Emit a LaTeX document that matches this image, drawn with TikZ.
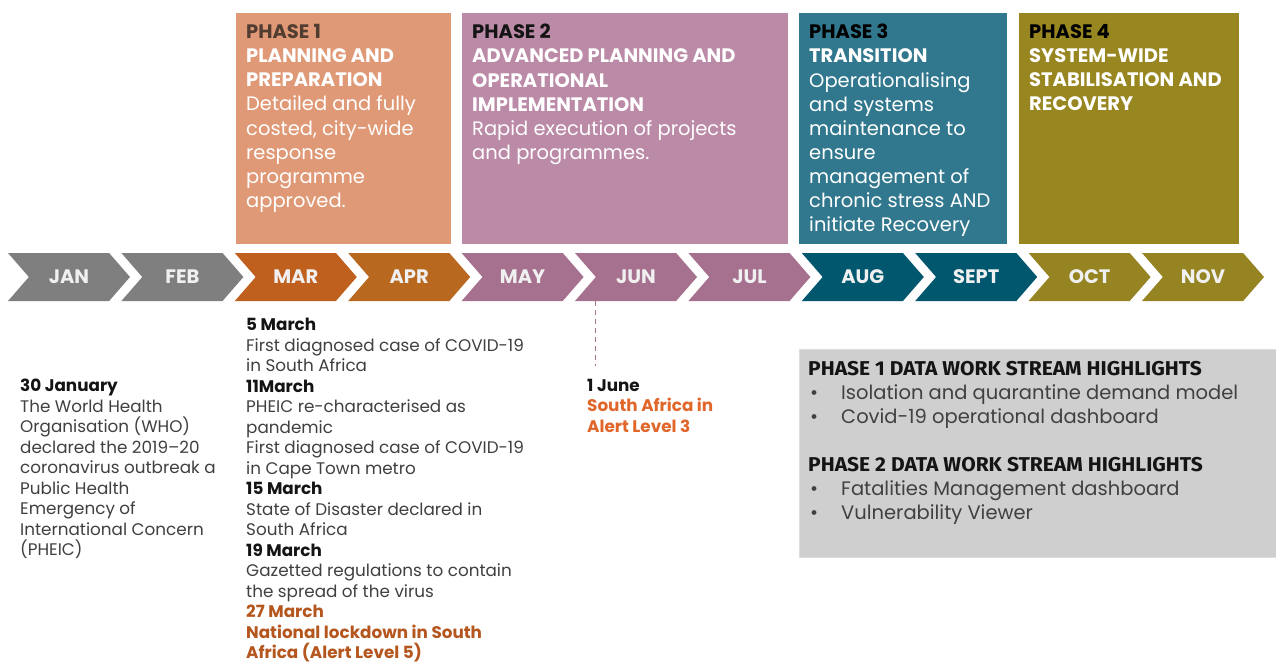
\documentclass[tikz,border=0pt]{standalone}
\usepackage{fontspec}
\setmainfont{Poppins}
\newfontfamily\headfont[FakeStretch=1.05]{Fira Sans}
\usetikzlibrary{shapes.symbols}

% month colours
\definecolor{jangray}{HTML}{7F7F7F}
\definecolor{marorange}{HTML}{C0601E}
\definecolor{aprorange}{HTML}{B8691F}
\definecolor{maymauve}{HTML}{A6708F}
\definecolor{augteal}{HTML}{00576E}
\definecolor{octolive}{HTML}{958421}
% phase colours
\definecolor{phaseone}{HTML}{DF9976}
\definecolor{phasetwo}{HTML}{BB8AA7}
\definecolor{phasethree}{HTML}{31778D}
\definecolor{phasefour}{HTML}{988620}
% text colours
\definecolor{notegray}{HTML}{404040}
\definecolor{datedark}{HTML}{141414}
\definecolor{lockdown}{HTML}{B5561E}
\definecolor{levelthree}{HTML}{E0662A}
\definecolor{boxgray}{HTML}{D0CFCF}

\newcommand\eventdate[1]{{\bfseries\color{datedark}#1}}
\newcommand\lockline[1]{{\bfseries\color{lockdown}#1}}
\newcommand\levelline[1]{{\bfseries\color{levelthree}#1}}
\newcommand\hlitem[1]{\makebox[33pt][l]{\hspace{2pt}\textbullet}#1}

\tikzset{
  month/.style={signal, signal to=east, signal from=west, signal pointer angle=98,
    minimum width=122, minimum height=48, inner sep=0, text=white!94!black,
    font=\bfseries\fontsize{19.5}{19.5}\selectfont},
  phasebox/.style={anchor=north west, minimum height=231, inner sep=0},
  phasetext/.style={anchor=north west, align=left, inner sep=0, text=white,
    font=\fontsize{19.5}{24.15}\selectfont},
  note/.style={anchor=north west, align=left, inner sep=0, text=notegray,
    font=\fontsize{16.8}{20.5}\selectfont},
  tick/.style={draw=maymauve, dash pattern=on 5pt off 4pt, line width=1pt},
}

\begin{document}
\begin{tikzpicture}[x=1pt,y=-1pt]
  \useasboundingbox[fill=white] (0,0) rectangle (1276,664);

  % the months as chevrons
  \foreach \m/\c [count=\i from 0] in {JAN/jangray, FEB/jangray, MAR/marorange,
      APR/aprorange, MAY/maymauve, JUN/maymauve, JUL/maymauve, AUG/augteal,
      SEPT/augteal, OCT/octolive, NOV/octolive}
    \node[month, fill=\c] (m-\m) at (69+113.4*\i, 277) {\m};

  % phase boxes above the months
  \node[phasebox, fill=phaseone, minimum width=215] (ph1) at (236,13) {};
  \node[phasebox, fill=phasetwo, minimum width=326] (ph2) at (462,13) {};
  \node[phasebox, fill=phasethree, minimum width=208] (ph3) at (799,13) {};
  \node[phasebox, fill=phasefour, minimum width=220] (ph4) at (1019,13) {};

  \node[phasetext] (ph1txt) at ([shift={(10,11)}]ph1.north west)
    {{\bfseries\color{datedark!70!phaseone}PHASE 1}\\
     \textbf{PLANNING AND}\\ \textbf{PREPARATION}\\
     Detailed and fully\\ costed, city-wide\\ response\\ programme\\ approved.};
  \node[phasetext] (ph2txt) at ([shift={(10,11)}]ph2.north west)
    {{\bfseries\color{datedark}PHASE 2}\\
     \textbf{ADVANCED PLANNING AND}\\ \textbf{OPERATIONAL}\\ \textbf{IMPLEMENTATION}\\
     Rapid execution of projects\\ and programmes.};
  \node[phasetext] (ph3txt) at ([shift={(10,11)}]ph3.north west)
    {{\bfseries\color{black}PHASE 3}\\
     \textbf{TRANSITION}\\
     Operationalising\\ and systems\\ maintenance to\\ ensure\\
     management of\\ chronic stress AND\\ initiate Recovery};
  \node[phasetext] (ph4txt) at ([shift={(10,11)}]ph4.north west)
    {{\bfseries\color{black}PHASE 4}\\
     \textbf{SYSTEM-WIDE}\\ \textbf{STABILISATION AND}\\ \textbf{RECOVERY}};

  % events below the months
  \node[note] (jan30) at (20,379)
    {\eventdate{30 January}\\ The World Health\\ Organisation (WHO)\\
     declared the 2019--20\\ coronavirus outbreak a\\ Public Health\\
     Emergency of\\ International Concern\\ (PHEIC)};
  \node[note] (march) at (246,318)
    {\eventdate{5 March}\\ First diagnosed case of COVID-19\\ in South Africa\\
     \eventdate{11March}\\ PHEIC re-characterised as\\ pandemic\\
     First diagnosed case of COVID-19\\ in Cape Town metro\\
     \eventdate{15 March}\\ State of Disaster declared in\\ South Africa\\
     \eventdate{19 March}\\ Gazetted regulations to contain\\ the spread of the virus\\
     \lockline{27 March}\\ \lockline{National lockdown in South}\\
     \lockline{Africa (Alert Level 5)}};
  \node[note] (june1) at (587,379)
    {\eventdate{1 June}\\ \levelline{South Africa in}\\ \levelline{Alert Level 3}};

  \coordinate (junetick) at (595,366);
  \draw[tick] (m-JUN.south -| junetick) -- (junetick);

  % data work stream highlights
  \node[anchor=north west, fill=boxgray, draw=boxgray!70!white, minimum width=477,
    minimum height=208, inner sep=0] (hl) at (799,349) {};
  \node[anchor=north west, align=left, inner sep=0, text=notegray,
    font=\fontsize{19.5}{23.8}\selectfont] (hltxt) at ([shift={(9,12)}]hl.north west)
    {{\headfont\bfseries\fontsize{20}{23.8}\selectfont\color{datedark}PHASE 1 DATA WORK STREAM HIGHLIGHTS}\\
     \hlitem{Isolation and quarantine demand model}\\
     \hlitem{Covid-19 operational dashboard}\\[25pt]
     {\headfont\bfseries\fontsize{20}{23.8}\selectfont\color{datedark}PHASE 2 DATA WORK STREAM HIGHLIGHTS}\\
     \hlitem{Fatalities Management dashboard}\\
     \hlitem{Vulnerability Viewer}};
\end{tikzpicture}
\end{document}
